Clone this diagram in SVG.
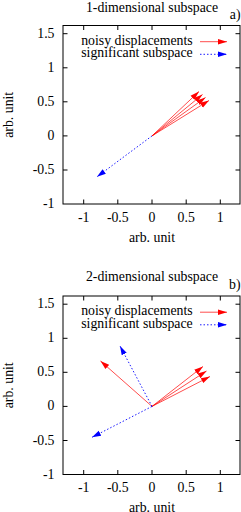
<svg xmlns="http://www.w3.org/2000/svg" width="241" height="512" viewBox="0 0 241 512">
<style>
text{font-family:"Liberation Serif","Times New Roman",serif;font-size:13.8px;fill:#000}
.frame{fill:none;stroke:#000;stroke-width:1}
.tick{stroke:#000;stroke-width:1}
.red{stroke:#ff0000;stroke-width:0.7;fill:none;marker-end:url(#hr)}
.blue{stroke:#0000ff;stroke-width:0.9;fill:none;stroke-dasharray:1.5,2;marker-end:url(#hb)}
.yl{text-anchor:end}
.xl{text-anchor:middle}
</style>
<defs>
<marker id="hr" markerUnits="userSpaceOnUse" markerWidth="10" markerHeight="8" refX="9" refY="4" orient="auto"><path d="M0,1.2 L9,4 L0,6.8 z" fill="#ff0000"/></marker>
<marker id="hb" markerUnits="userSpaceOnUse" markerWidth="10" markerHeight="8" refX="9" refY="4" orient="auto"><path d="M0,1.2 L9,4 L0,6.8 z" fill="#0000ff"/></marker>
<g id="axes">
<rect class="frame" x="63" y="25.5" width="177" height="178.5"/>
<path class="tick" d="M63,33.7h4.5M63,67.8h4.5M63,101.8h4.5M63,135.9h4.5M63,170h4.5M240,33.7h-4.5M240,67.8h-4.5M240,101.8h-4.5M240,135.9h-4.5M240,170h-4.5M83.7,204v-4.5M117.8,204v-4.5M152,204v-4.5M186.2,204v-4.5M220.3,204v-4.5M83.7,25.5v4.5M117.8,25.5v4.5M152,25.5v4.5M186.2,25.5v4.5M220.3,25.5v4.5"/>
<text class="yl" x="54.5" y="37.7">1.5</text>
<text class="yl" x="54.5" y="71.8">1</text>
<text class="yl" x="54.5" y="105.8">0.5</text>
<text class="yl" x="54.5" y="139.9">0</text>
<text class="yl" x="54.5" y="174">-0.5</text>
<text class="yl" x="54.5" y="208">-1</text>
<text class="xl" x="83.7" y="221.5">-1</text>
<text class="xl" x="117.8" y="221.5">-0.5</text>
<text class="xl" x="152" y="221.5">0</text>
<text class="xl" x="186.2" y="221.5">0.5</text>
<text class="xl" x="220.3" y="221.5">1</text>
<text class="xl" x="152" y="241.5">arb. unit</text>
<text class="xl" transform="translate(13,114.8) rotate(-90)">arb. unit</text>
<text class="yl" x="192.7" y="44.5">noisy displacements</text>
<text class="yl" x="192.7" y="57">significant subspace</text>
<path class="red" d="M200,41.7H227"/>
<path class="blue" d="M200,54.3H227"/>
</g>
</defs>
<g id="panel-a">
<text class="xl" x="152" y="11.5">1-dimensional subspace</text>
<text class="yl" x="240.5" y="18.5">a)</text>
<use href="#axes"/>
</g>
<g id="connectors-a">
<path class="red" d="M152,135.9L199,91.5"/>
<path class="red" d="M152,135.9L202.5,94.5"/>
<path class="red" d="M152,135.9L205.5,97.5"/>
<path class="red" d="M152,135.9L209,100.5"/>
<path class="blue" d="M152,135.9L97,176.8"/>
</g>
<g id="panel-b">
<text class="xl" x="152" y="281">2-dimensional subspace</text>
<text class="yl" x="240.5" y="288.5">b)</text>
<use href="#axes" transform="translate(0,270.5)"/>
</g>
<g id="connectors-b">
<path class="red" d="M152,406.4L203,366.5"/>
<path class="red" d="M152,406.4L206.5,371"/>
<path class="red" d="M152,406.4L210,376.5"/>
<path class="red" d="M152,406.4L100.5,361"/>
<path class="blue" d="M152,406.4L120,346"/>
<path class="blue" d="M152,406.4L92,437.3"/>
</g>
</svg>
